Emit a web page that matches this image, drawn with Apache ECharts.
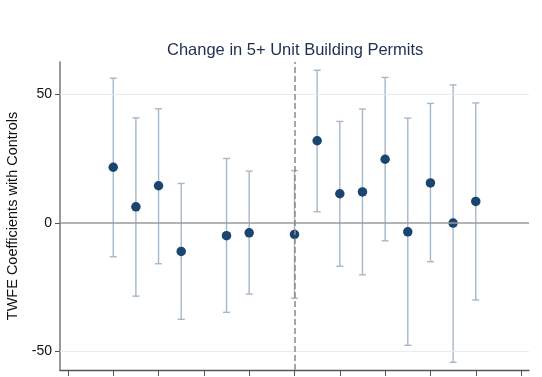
<!DOCTYPE html>
<html>
<head>
<meta charset="utf-8">
<script src="https://cdn.jsdelivr.net/npm/echarts@6/dist/echarts.min.js"></script>
<style>
  html, body { margin: 0; padding: 0; background: #fff; }
  #chart { width: 542px; height: 377px; }
</style>
</head>
<body>
<div id="chart"></div>
<script>
// Event time relative to treatment (0 = treatment year)
var eventTime = [-8, -7, -6, -5, -3, -2, 0, 1, 2, 3, 4, 5, 6, 7, 8];
// TWFE point estimates
var coef = [21.6, 6.2, 14.4, -11.1, -5.0, -3.9, -4.5, 31.9, 11.3, 12.0, 24.7, -3.5, 15.5, -0.1, 8.3];
// Confidence interval bounds
var ciLow = [-13.2, -28.5, -15.9, -37.5, -34.8, -27.7, -29.3, 4.3, -16.9, -20.2, -7.0, -47.6, -15.1, -54.2, -30.0];
var ciHigh = [56.2, 40.8, 44.3, 15.3, 25.0, 20.1, 20.3, 59.3, 39.4, 44.2, 56.5, 40.7, 46.4, 53.6, 46.6];
// Axis ticks
var xTicks = [-10, -8, -6, -4, -2, 0, 2, 4, 6, 8, 10];
var yTicks = [-50, 0, 50];

var barData = eventTime.map(function (t, i) { return [t, ciLow[i], ciHigh[i]]; });
var pointData = eventTime.map(function (t, i) { return [t, coef[i]]; });

var chart = echarts.init(document.getElementById('chart'), null, { renderer: 'canvas' });

chart.setOption({
  animation: false,
  backgroundColor: '#ffffff',
  title: {
    text: 'Change in 5+ Unit Building Permits',
    left: 162,
    top: 37,
    textStyle: {
      fontFamily: 'Liberation Sans, Arial, sans-serif',
      fontSize: 16.5,
      fontWeight: 'normal',
      color: '#1f2f4f'
    }
  },
  grid: { left: 60, right: 13, top: 62, bottom: 7, containLabel: false, outerBoundsMode: 'none' },
  xAxis: {
    type: 'value',
    min: -10.35,
    max: 10.35,
    axisLine: { show: true, onZero: false, lineStyle: { color: '#555', width: 1.3 } },
    axisTick: { show: true, length: 6, customValues: xTicks, lineStyle: { color: '#555', width: 1 } },
    axisLabel: { show: false },
    splitLine: { show: false }
  },
  yAxis: {
    type: 'value',
    min: -57.2,
    max: 62.5,
    name: 'TWFE Coefficients with Controls',
    nameLocation: 'middle',
    nameGap: 35,
    nameTextStyle: {
      fontFamily: 'Liberation Sans, Arial, sans-serif',
      fontSize: 14.5,
      color: '#111'
    },
    axisLine: { show: true, onZero: false, lineStyle: { color: '#777', width: 1.5 } },
    axisTick: { show: true, length: 5, customValues: yTicks, lineStyle: { color: '#555', width: 1 } },
    axisLabel: {
      customValues: yTicks,
      margin: 8,
      fontFamily: 'Liberation Sans, Arial, sans-serif',
      fontSize: 14,
      color: '#111'
    },
    splitLine: { show: false }
  },
  series: [
    {
      // horizontal reference lines
      type: 'line',
      data: [],
      silent: true,
      z: 1,
      markLine: {
        silent: true,
        symbol: 'none',
        label: { show: false },
        animation: false,
        data: [
          { yAxis: 50, lineStyle: { color: '#e4eef1', width: 1.2, type: 'solid' } },
          { yAxis: -50, lineStyle: { color: '#e4eef1', width: 1.2, type: 'solid' } },
          { yAxis: 0, lineStyle: { color: '#9a9a9a', width: 1.6, type: 'solid' } }
        ]
      }
    },
    {
      // confidence interval whiskers
      type: 'custom',
      z: 2,
      data: barData,
      encode: { x: 0, y: [1, 2] },
      renderItem: function (params, api) {
        var x = api.value(0);
        var lo = api.coord([x, api.value(1)]);
        var hi = api.coord([x, api.value(2)]);
        var cap = 3.5;
        var style = { stroke: '#a6b7c8', lineWidth: 1.4, fill: null };
        return {
          type: 'group',
          children: [
            { type: 'line', shape: { x1: lo[0], y1: lo[1], x2: hi[0], y2: hi[1] }, style: style },
            { type: 'line', shape: { x1: lo[0] - cap, y1: lo[1], x2: lo[0] + cap, y2: lo[1] }, style: style },
            { type: 'line', shape: { x1: hi[0] - cap, y1: hi[1], x2: hi[0] + cap, y2: hi[1] }, style: style }
          ]
        };
      }
    },
    {
      // treatment marker
      type: 'line',
      data: [],
      silent: true,
      z: 3,
      markLine: {
        silent: true,
        symbol: 'none',
        label: { show: false },
        animation: false,
        data: [
          { xAxis: 0, lineStyle: { color: '#8a8a8a', width: 1.5, type: [6, 3] } }
        ]
      }
    },
    {
      // point estimates
      type: 'scatter',
      z: 4,
      data: pointData,
      symbol: 'circle',
      symbolSize: 9.5,
      itemStyle: { color: '#1a4570', opacity: 1 }
    }
  ]
});
</script>
</body>
</html>
